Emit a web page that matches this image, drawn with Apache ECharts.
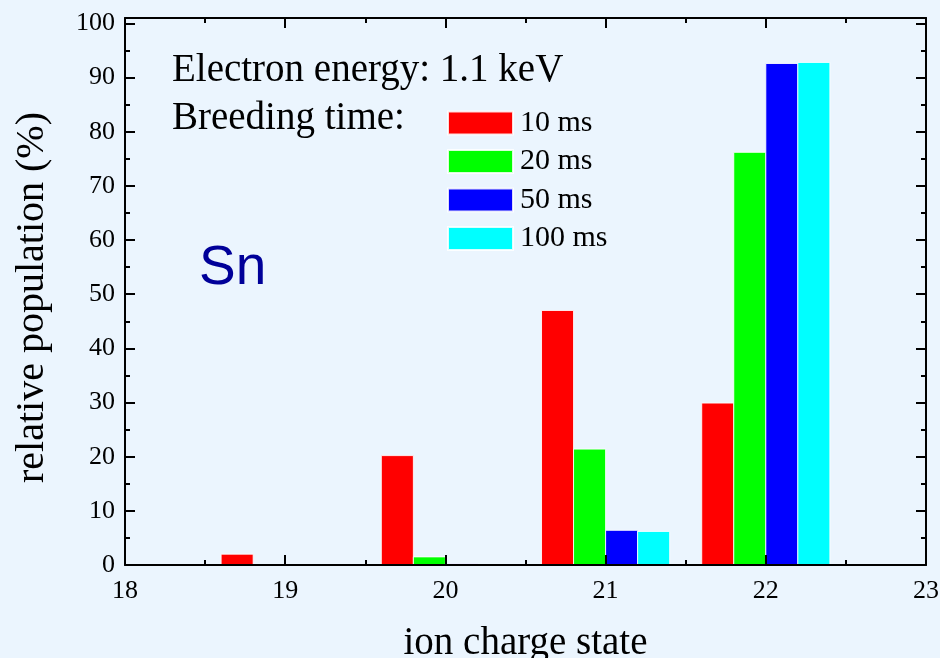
<!DOCTYPE html>
<html>
<head>
<meta charset="utf-8">
<script src="https://cdn.jsdelivr.net/npm/echarts@6/dist/echarts.min.js"></script>
<style>
html,body{margin:0;padding:0;background:#EBF5FE;}
#chart{width:940px;height:658px;}
</style>
</head>
<body>
<div id="chart"></div>
<script>
// Data
var chargeStates = [19, 20, 21, 22];
var seriesNames = ['10 ms', '20 ms', '50 ms', '100 ms'];
var pop10ms  = [2.0, 20.2, 47.0, 29.9];
var pop20ms  = [0.1, 1.5, 21.4, 76.2];
var pop50ms  = [0.0, 0.25, 6.4, 92.6];
var pop100ms = [0.0, 0.1, 6.2, 92.8];
var barOffsets = [-0.3, -0.1, 0.1, 0.3];
var barColors = ['#FF0000', '#00FF00', '#0000FF', '#00FFFF'];
var allValues = [pop10ms, pop20ms, pop50ms, pop100ms];

var serif = '"Liberation Serif", "Times New Roman", serif';
var halfWidth = 0.1;

function makeSeries(idx) {
  return {
    type: 'custom',
    name: seriesNames[idx],
    xAxisIndex: 0,
    yAxisIndex: 0,
    z: 2,
    itemStyle: { color: barColors[idx], borderColor: 'rgba(255,255,255,0.85)', borderWidth: 1 },
    data: chargeStates.map(function (q, i) { return [q + barOffsets[idx], allValues[idx][i]]; }),
    renderItem: function (params, api) {
      var x = api.value(0), y = api.value(1);
      var p0 = api.coord([x - halfWidth, 0]);
      var p1 = api.coord([x + halfWidth, y]);
      return {
        type: 'rect',
        shape: { x: p0[0], y: p1[1], width: p1[0] - p0[0], height: p0[1] - p1[1] },
        style: { fill: barColors[idx], stroke: 'rgba(255,255,255,0.85)', lineWidth: 1 }
      };
    }
  };
}

var axisLine = { show: true, onZero: false, lineStyle: { color: '#000', width: 2 } };
var tickMajor = { show: true, inside: true, length: 10, lineStyle: { color: '#000', width: 2 } };
var tickMinor = { show: true, splitNumber: 2, length: 5, lineStyle: { color: '#000', width: 2 } };

var chart = echarts.init(document.getElementById('chart'), null, { renderer: 'canvas' });
chart.setOption({
  animation: false,
  backgroundColor: '#EBF5FE',
  grid: { left: 125, right: 14, top: 18, bottom: 93, containLabel: false, outerBoundsMode: 'none' },
  legend: {
    orient: 'vertical',
    left: 447,
    top: 108,
    padding: 0,
    itemWidth: 65,
    itemHeight: 23,
    itemGap: 8.5,
    icon: 'rect',
    data: seriesNames,
    textStyle: { fontFamily: serif, fontSize: 30, color: '#000', padding: [0, 0, 0, 2] },
    selectedMode: false
  },
  xAxis: [{
    type: 'value', position: 'bottom', min: 18, max: 23, interval: 1, z: 5,
    name: 'ion charge state', nameLocation: 'middle', nameGap: 59,
    nameTextStyle: { fontFamily: serif, fontSize: 39, color: '#000' },
    axisLine: axisLine, axisTick: tickMajor, minorTick: tickMinor,
    splitLine: { show: false },
    axisLabel: { fontFamily: serif, fontSize: 26, color: '#000', margin: 13 }
  }, {
    type: 'value', position: 'top', min: 18, max: 23, interval: 1, z: 5,
    axisLine: axisLine, axisTick: tickMajor, minorTick: tickMinor,
    splitLine: { show: false }, axisLabel: { show: false }
  }],
  yAxis: [{
    type: 'value', position: 'left', min: 0, max: 101, interval: 10, z: 5,
    name: 'relative population (%)', nameLocation: 'middle', nameGap: 73,
    nameTextStyle: { fontFamily: serif, fontSize: 40, color: '#000', padding: [0, 12, 0, 0] },
    axisLine: axisLine, axisTick: tickMajor, minorTick: tickMinor,
    splitLine: { show: false },
    axisLabel: {
      fontFamily: serif, fontSize: 26, color: '#000', margin: 10,
      formatter: function (v) { return (Math.round(v) % 10 === 0 && v <= 100) ? String(Math.round(v)) : ''; }
    }
  }, {
    type: 'value', position: 'right', min: 0, max: 101, interval: 10, z: 5,
    axisLine: axisLine, axisTick: tickMajor, minorTick: tickMinor,
    splitLine: { show: false }, axisLabel: { show: false }
  }],
  graphic: [
    { type: 'text', left: 172, top: 51, style: { text: 'Electron energy: 1.1 keV', font: '39px ' + serif, fill: '#000' } },
    { type: 'text', left: 172, top: 99, style: { text: 'Breeding time:', font: '39px ' + serif, fill: '#000' } },
    { type: 'text', left: 199, top: 241, style: { text: 'Sn', font: '55px "Liberation Sans", Arial, sans-serif', fill: '#000099' } }
  ],
  series: [makeSeries(0), makeSeries(1), makeSeries(2), makeSeries(3)]
});
</script>
</body>
</html>
